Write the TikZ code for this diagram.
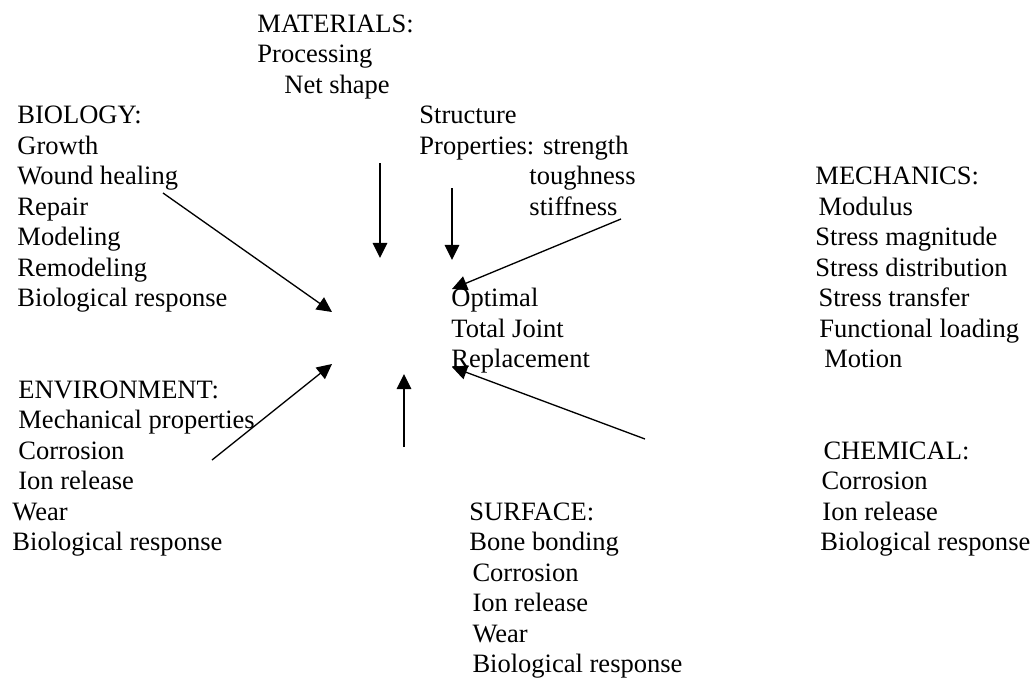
\documentclass[tikz,border=0pt]{standalone}
\usepackage{fontspec}
\setmainfont{Liberation Serif}
\usetikzlibrary{arrows.meta}

\begin{document}
\begin{tikzpicture}[x=0.4525pt,y=-0.4525pt,
  listtext/.style={anchor=north west, inner sep=0pt, align=left, font=\fontsize{12}{13.8}\selectfont},
  pointer/.style={-{Triangle[length=6.8pt,width=6.6pt]}, line width=0.6pt}]
\useasboundingbox (0,0) rectangle (1033,680);

\node[listtext] (materials) at (257,10.7) {\strut MATERIALS:\\Processing\\\hspace*{12.2pt}Net shape};
\node[listtext] (properties) at (419,102.2) {\strut Structure\\Properties: strength\\\hspace*{49.8pt}toughness\\\hspace*{49.8pt}stiffness};
\node[listtext] (biology) at (17,102.2) {\strut BIOLOGY:\\Growth\\Wound healing\\Repair\\Modeling\\Remodeling\\Biological response};
\node[listtext] (mechanics) at (815,163.2) {\strut MECHANICS:\\\hspace*{1.4pt}Modulus\\Stress magnitude\\Stress distribution\\\hspace*{1.4pt}Stress transfer\\\hspace*{1.8pt}Functional loading\\\hspace*{4pt}Motion};
\node[listtext] (joint) at (451,285.2) {\strut Optimal\\Total Joint\\Replacement};
\node[listtext] (environment) at (12,376.7) {\strut\hspace*{2.7pt}ENVIRONMENT:\\\hspace*{2.7pt}Mechanical properties\\\hspace*{2.7pt}Corrosion\\\hspace*{2.7pt}Ion release\\Wear\\Biological response};
\node[listtext] (chemical) at (820,437.7) {\strut\hspace*{1.4pt}CHEMICAL:\\\hspace*{0.5pt}Corrosion\\\hspace*{0.9pt}Ion release\\Biological response};
\node[listtext] (surface) at (469,498.7) {\strut SURFACE:\\Bone bonding\\\hspace*{1.4pt}Corrosion\\\hspace*{1.4pt}Ion release\\\hspace*{1.4pt}Wear\\\hspace*{1.4pt}Biological response};

\coordinate (bioFrom) at (163,193);
\coordinate (bioTo) at (332,312);
\coordinate (matFrom) at (380,163);
\coordinate (matTo) at (380,258);
\coordinate (propFrom) at (452,188);
\coordinate (propTo) at (452,260);
\coordinate (mechFrom) at (621,219);
\coordinate (mechTo) at (452,289);
\coordinate (envFrom) at (212,460);
\coordinate (envTo) at (332,364);
\coordinate (surfFrom) at (404,447);
\coordinate (surfTo) at (404,374);
\coordinate (chemFrom) at (645,439);
\coordinate (chemTo) at (452,367);

\draw[pointer] (bioFrom) -- (bioTo);
\draw[pointer] (matFrom) -- (matTo);
\draw[pointer] (propFrom) -- (propTo);
\draw[pointer] (mechFrom) -- (mechTo);
\draw[pointer] (envFrom) -- (envTo);
\draw[pointer] (surfFrom) -- (surfTo);
\draw[pointer] (chemFrom) -- (chemTo);
\end{tikzpicture}
\end{document}
